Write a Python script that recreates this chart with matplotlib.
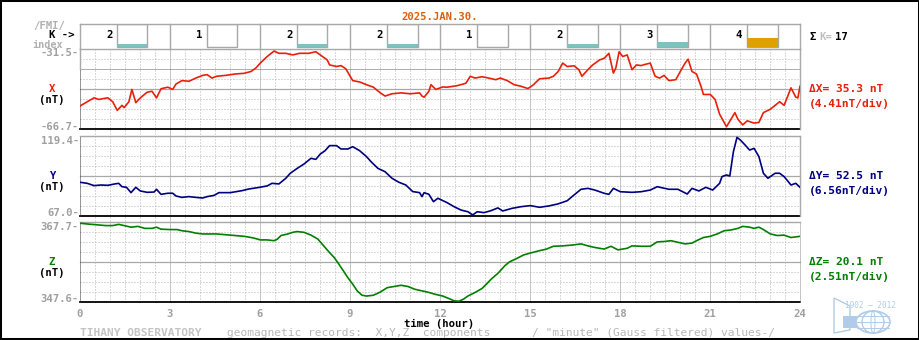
import numpy as np
import matplotlib
matplotlib.use('Agg')
import matplotlib.pyplot as plt
from matplotlib.patches import Rectangle, Ellipse, Polygon

W, H = 920, 340

title = '2025.JAN.30.'
k_index = [2, 1, 2, 2, 1, 2, 3, 4]

# X component (nT)
x_hours = [0.0, 0.24, 0.47, 0.63, 0.78, 0.93, 1.09, 1.24, 1.40, 1.47, 1.63, 1.73, 1.86, 2.01,
           2.24, 2.40, 2.55, 2.70, 2.93, 3.09, 3.20, 3.40, 3.63, 3.86, 4.09, 4.24, 4.40, 4.55,
           4.86, 5.17, 5.47, 5.70, 5.86, 6.01, 6.24, 6.47, 6.63, 6.86, 7.09, 7.32, 7.63, 7.86,
           8.01, 8.24, 8.32, 8.55, 8.70, 8.86, 9.09, 9.32, 9.55, 9.78, 10.01, 10.17, 10.40,
           10.70, 11.01, 11.32, 11.40, 11.47, 11.63, 11.70, 11.86, 12.09, 12.24, 12.55, 12.86,
           13.01, 13.17, 13.40, 13.63, 13.86, 14.01, 14.24, 14.47, 14.70, 14.93, 15.09, 15.32,
           15.63, 15.78, 15.94, 16.09, 16.24, 16.47, 16.63, 16.73, 16.93, 17.09, 17.32, 17.47,
           17.63, 17.78, 17.86, 17.97, 18.09, 18.24, 18.40, 18.55, 18.70, 18.86, 19.01, 19.17,
           19.32, 19.47, 19.63, 19.86, 20.01, 20.17, 20.27, 20.40, 20.55, 20.70, 20.78, 21.01,
           21.17, 21.32, 21.47, 21.55, 21.70, 21.83, 21.93, 22.09, 22.24, 22.47, 22.63, 22.78,
           23.01, 23.17, 23.32, 23.47, 23.70, 23.86, 23.93, 24.0]
x_vals = [-56.6, -54.7, -53.0, -53.7, -53.3, -53.0, -54.7, -58.5, -56.3, -57.3, -54.7, -49.3,
          -55.1, -53.0, -50.5, -50.1, -53.0, -49.0, -48.3, -49.3, -46.9, -45.4, -45.7, -44.3,
          -43.1, -42.8, -44.3, -43.5, -43.1, -42.5, -42.2, -41.4, -39.9, -37.7, -34.8, -32.4,
          -33.4, -33.4, -34.1, -33.4, -33.4, -32.7, -34.1, -36.3, -38.5, -39.2, -38.8, -40.2,
          -45.4, -46.0, -47.2, -48.3, -50.8, -52.2, -51.2, -50.8, -51.2, -50.8, -52.2, -52.7,
          -50.1, -47.2, -49.3, -48.2, -48.3, -47.7, -46.6, -43.5, -44.3, -43.7, -44.3, -45.0,
          -44.3, -45.4, -47.2, -47.9, -48.9, -47.5, -44.6, -44.3, -43.5, -41.4, -37.7, -39.2,
          -38.9, -40.6, -43.5, -40.6, -38.5, -36.3, -35.6, -33.4, -42.1, -39.9, -32.7, -34.8,
          -34.1, -40.6, -38.5, -38.8, -38.2, -37.7, -43.5, -44.3, -43.1, -45.4, -45.0, -41.4,
          -37.7, -36.0, -41.4, -42.5, -47.9, -51.5, -51.5, -53.7, -60.2, -63.8, -65.7, -62.4,
          -59.5, -62.4, -64.9, -63.1, -64.1, -63.8, -59.5, -58.0, -56.3, -54.7, -56.3, -48.6,
          -52.7, -53.0, -47.9]

# Y component (nT)
y_hours = [0.0, 0.24, 0.47, 0.70, 0.93, 1.16, 1.29, 1.40, 1.55, 1.70, 1.86, 2.01, 2.24, 2.47,
           2.55, 2.70, 2.93, 3.09, 3.20, 3.40, 3.63, 3.86, 4.09, 4.24, 4.47, 4.63, 5.01, 5.40,
           5.63, 5.93, 6.24, 6.40, 6.63, 6.86, 7.01, 7.24, 7.47, 7.70, 7.86, 8.01, 8.17, 8.32,
           8.55, 8.70, 8.93, 9.09, 9.32, 9.55, 9.70, 9.93, 10.17, 10.40, 10.63, 10.86, 11.09,
           11.32, 11.40, 11.47, 11.63, 11.78, 11.93, 12.24, 12.47, 12.70, 12.93, 13.09, 13.24,
           13.47, 13.70, 13.93, 14.09, 14.40, 14.70, 15.01, 15.32, 15.63, 15.93, 16.24, 16.47,
           16.70, 16.93, 17.16, 17.47, 17.63, 17.78, 18.01, 18.40, 18.70, 19.01, 19.24, 19.63,
           19.93, 20.24, 20.40, 20.63, 20.86, 21.09, 21.32, 21.40, 21.55, 21.66, 21.78, 21.90,
           22.01, 22.17, 22.32, 22.47, 22.63, 22.78, 22.93, 23.17, 23.32, 23.47, 23.70, 23.86,
           24.0]
y_vals = [89.1, 88.4, 86.9, 87.3, 87.1, 88.0, 88.4, 86.2, 85.8, 82.3, 85.8, 83.4, 82.5, 82.7,
          84.5, 81.2, 81.9, 81.9, 80.1, 79.2, 79.7, 79.2, 78.8, 79.7, 80.5, 82.3, 82.3, 83.6,
          84.7, 85.6, 86.7, 88.4, 88.0, 91.7, 95.0, 98.2, 101.1, 104.8, 104.1, 107.6, 109.8,
          113.1, 113.1, 110.9, 110.9, 112.4, 109.8, 105.9, 102.6, 98.2, 96.0, 91.7, 89.1, 87.3,
          83.0, 82.3, 79.7, 82.3, 81.2, 76.4, 78.6, 75.7, 73.1, 70.9, 69.8, 67.7, 69.8, 69.2,
          70.5, 72.3, 70.3, 72.0, 73.1, 73.8, 72.7, 73.6, 74.9, 77.0, 80.8, 84.5, 85.1, 84.0,
          81.9, 81.2, 85.1, 82.9, 82.5, 82.9, 84.0, 86.2, 84.5, 84.5, 81.4, 85.1, 83.4, 85.8,
          84.0, 88.4, 92.8, 93.9, 93.2, 109.1, 118.5, 116.8, 113.5, 110.2, 111.3, 105.9, 95.0,
          91.7, 95.0, 95.0, 92.8, 87.3, 88.4, 85.8]

# Z component (nT)
z_hours = [0.0, 0.24, 0.55, 0.86, 1.09, 1.29, 1.47, 1.70, 1.93, 2.16, 2.40, 2.55, 2.70, 3.01,
           3.24, 3.40, 3.63, 3.86, 4.09, 4.32, 4.55, 4.86, 5.17, 5.47, 5.78, 6.01, 6.24, 6.47,
           6.58, 6.70, 6.93, 7.09, 7.24, 7.47, 7.70, 7.93, 8.17, 8.32, 8.47, 8.63, 8.78, 8.93,
           9.09, 9.24, 9.40, 9.55, 9.78, 10.01, 10.24, 10.47, 10.70, 10.93, 11.16, 11.40, 11.63,
           11.86, 12.09, 12.32, 12.47, 12.63, 12.78, 12.93, 13.17, 13.40, 13.55, 13.70, 13.93,
           14.16, 14.32, 14.55, 14.78, 15.01, 15.32, 15.55, 15.78, 16.09, 16.40, 16.70, 16.93,
           17.16, 17.47, 17.70, 17.93, 18.24, 18.40, 18.70, 19.01, 19.24, 19.47, 19.70, 19.93,
           20.17, 20.40, 20.55, 20.78, 21.01, 21.24, 21.47, 21.70, 21.93, 22.09, 22.32, 22.47,
           22.63, 22.78, 23.01, 23.24, 23.47, 23.70, 24.0]
z_vals = [367.4, 367.2, 367.0, 366.8, 366.8, 367.1, 366.8, 366.4, 366.6, 366.1, 366.1, 366.4,
          365.9, 365.8, 365.8, 365.5, 365.3, 364.9, 364.7, 364.7, 364.7, 364.5, 364.3, 364.1,
          363.7, 363.2, 363.2, 363.0, 363.4, 364.3, 364.7, 365.1, 365.3, 365.1, 364.4, 363.4,
          361.3, 360.0, 358.8, 357.1, 355.4, 353.7, 352.1, 350.4, 349.3, 349.1, 349.3, 350.1,
          351.2, 351.5, 351.8, 351.5, 350.8, 350.4, 350.0, 349.5, 349.1, 348.4, 347.9, 347.8,
          348.3, 349.1, 350.0, 351.0, 352.1, 353.3, 354.8, 356.7, 357.7, 358.5, 359.4, 359.9,
          360.5, 360.9, 361.6, 361.7, 361.9, 362.2, 361.7, 361.3, 360.9, 361.6, 360.7, 361.1,
          361.7, 361.6, 361.6, 362.7, 362.8, 363.0, 362.6, 362.2, 362.4, 363.0, 363.8, 364.1,
          364.7, 365.5, 365.7, 366.1, 366.6, 366.4, 366.1, 366.4, 365.8, 364.7, 364.3, 364.4,
          363.8, 364.1]

# axis limits (bottom, top) and full-scale spans
limits = [(-66.7, -31.5), (67.0, 119.4), (347.6, 367.7)]
spans = [35.3, 52.5, 20.1]
names = ['X', 'Y', 'Z']
colors = ['#e8200a', '#000080', '#008000']

GRAY = '#a8a8a8'
LIGHT = '#b4b4b4'
LABEL = '#a0a0a0'
TEAL = '#80c0c0'
ORANGE = '#e0a000'
bar_px = [0, 0, 3, 5, 9, 13, 16, 19, 21, 22]

plt.rcParams['font.family'] = 'DejaVu Sans Mono'
plt.rcParams['font.weight'] = 'bold'
FS = 7.7

fig = plt.figure(figsize=(W / 100, H / 100), dpi=100)
fig.patch.set_facecolor('white')


def fy(y):
    return 1 - y / H


def ftext(x, y, s, **kw):
    kw.setdefault('fontsize', FS)
    kw.setdefault('va', 'center')
    return fig.text(x / W, fy(y), s, **kw)


# vertical hour grid behind the three panels
gax = fig.add_axes([80 / W, fy(302), 720 / W, 253 / H], zorder=0)
gax.set_xlim(0, 24)
gax.set_ylim(0, 1)
gax.set_axis_off()
for h in np.arange(0.5, 24, 0.5):
    if h % 3 == 0:
        gax.axvline(h, color='#8c8c8c', lw=0.72, ls=(0, (1, 1)), clip_on=False)
    else:
        gax.axvline(h, color=LIGHT, lw=0.72, ls=(0, (1, 2)), clip_on=False)

panel_px = [(49, 129), (136, 216), (222, 302)]
series = [(x_hours, x_vals), (y_hours, y_vals), (z_hours, z_vals)]

for i, ((top, bot), (lo, hi), (hrs, vals)) in enumerate(zip(panel_px, limits, series)):
    ax = fig.add_axes([80 / W, fy(bot), 720 / W, (bot - top) / H], zorder=1)
    ax.set_xlim(0, 24)
    ax.set_ylim(lo, hi)
    ax.set_axis_off()
    step = (hi - lo) / 8
    for j in range(1, 8):
        yv = lo + j * step
        if j == 4:
            ax.axhline(yv, color=GRAY, lw=0.9, clip_on=False)
        elif i == 0 and j == 6:
            ax.axhline(yv, color='#606060', lw=0.72, ls=(0, (1, 1)), clip_on=False)
        else:
            ax.axhline(yv, color=LIGHT, lw=0.72, ls=(0, (1, 2)), clip_on=False)
    ax.axhline(hi, color=GRAY, lw=1.0, clip_on=False)
    ax.axhline(lo, color='black', lw=1.3, clip_on=False)
    if i == 0:
        ax.plot([0, 0], [lo + 6 * step, hi], color=GRAY, lw=1.0, clip_on=False)
        ax.plot([0, 0], [lo, lo + 6 * step], color='#303030', lw=0.72, ls=(0, (1, 1)), clip_on=False)
    else:
        ax.axvline(0, color='#303030', lw=0.72, ls=(0, (1, 1)), clip_on=False)
    if i < 2:
        ax.axvline(24, color=GRAY, lw=1.0, clip_on=False)
    else:
        ax.axvline(24, color='#8c8c8c', lw=0.72, ls=(0, (1, 1)), clip_on=False)

    ax.plot(hrs, vals, color=colors[i], lw=1.2, zorder=3)

    # scale labels on the left
    ftext(79, top - 0.5, f'{hi:.1f}-', color=LABEL, ha='right', va='top')
    ftext(79, bot + 0.5, f'{lo:.1f}-', color=LABEL, ha='right', va='baseline')

    mid = (top + bot) / 2
    ftext(52, mid, names[i], color=colors[i], ha='center')
    ftext(52, mid + 11, '(nT)', color='black', ha='center')

    ftext(809, mid, f'\u0394{names[i]}= {spans[i]:.1f} nT', color=colors[i], ha='left',
          fontsize=8.1)
    ftext(809, mid + 14.5, f'({spans[i] / 8:.2f}nT/div)', color=colors[i], ha='left',
          fontsize=8.1)

# K-index strip
kax = fig.add_axes([80 / W, fy(49), 720 / W, 25 / H], zorder=2)
kax.set_xlim(0, 24)
kax.set_ylim(25, 0)
kax.set_axis_off()
kax.axhline(0, color=GRAY, lw=1.0, clip_on=False)
for b in range(9):
    kax.plot([3 * b, 3 * b], [0, 25], color=GRAY, lw=1.0, clip_on=False)
for b, k in enumerate(k_index):
    x0 = 3 * b + 1.23
    kax.add_patch(Rectangle((x0, 0), 1.02, 22.5, fill=False, edgecolor=GRAY, lw=1.0))
    if bar_px[k] > 0:
        kax.add_patch(Rectangle((x0, 22.5 - bar_px[k]), 1.02, bar_px[k],
                                facecolor=ORANGE if k >= 4 else TEAL, edgecolor='none'))
    kax.text(3 * b + 0.97, 11.5, str(k), ha='center', va='center', fontsize=FS, color='black')

ftext(440, 16.5, title, color='#e0600a', ha='center')
ftext(49, 25.5, '/FMI/', color='#b0b0b0', ha='center')
ftext(75, 35, 'K ->', color='black', ha='right')
ftext(47.5, 44.5, 'index', color='#b0b0b0', ha='center', fontsize=7.3)

ftext(813, 37, '\u03a3', color='black', ha='center')
ftext(819, 37, 'K=', color='#c0c0c0', ha='left')
ftext(835, 37, str(sum(k_index)), color='black', ha='left')

# hour labels and footer
for h in range(0, 25, 3):
    ftext(80 + 30 * h, 314, str(h), color=LABEL, ha='center')
ftext(439, 323.5, 'time (hour)', color='black', ha='center')
ftext(80, 332.5, 'TIHANY OBSERVATORY', color='#c4c4c4', ha='left', fontsize=8.1)
ftext(227, 332.5, 'geomagnetic records:  X,Y,Z  components', color='#b8b8b8', ha='left',
      fontweight='normal', fontsize=8.1)
ftext(532, 332.5, '/ "minute" (Gauss filtered) values-/', color='#b8b8b8', ha='left',
      fontweight='normal', fontsize=8.1)

# small anniversary logo
LOGO = '#b0cce8'
lax = fig.add_axes([828 / W, fy(338), 72 / W, 48 / H], zorder=2)
lax.set_xlim(828, 900)
lax.set_ylim(338, 290)
lax.set_axis_off()
lax.add_patch(Polygon([(834, 298), (850, 306), (850, 330), (834, 333)], closed=True,
                      fill=False, edgecolor=LOGO, lw=1.0))
lax.add_patch(Rectangle((843, 316), 14, 12, facecolor=LOGO, edgecolor='none'))
lax.add_patch(Ellipse((873, 322), 34, 22, fill=False, edgecolor=LOGO, lw=1.2))
for dx in (-9, 0, 9):
    lax.add_patch(Ellipse((873, 322), abs(dx) * 2 + 4, 22, fill=False, edgecolor=LOGO, lw=0.7))
for dy in (-6, 0, 6):
    lax.plot([857, 889], [322 + dy, 322 + dy], color=LOGO, lw=0.7)
lax.text(870, 305, '1902 \u2014 2012', color=LOGO, fontsize=5.5, ha='center', va='center',
         fontweight='normal')

fig.patches.append(Rectangle((0, 0), 1, 1, transform=fig.transFigure, fill=False,
                             edgecolor='black', lw=2.9))

fig.savefig('out.png', dpi=100)
